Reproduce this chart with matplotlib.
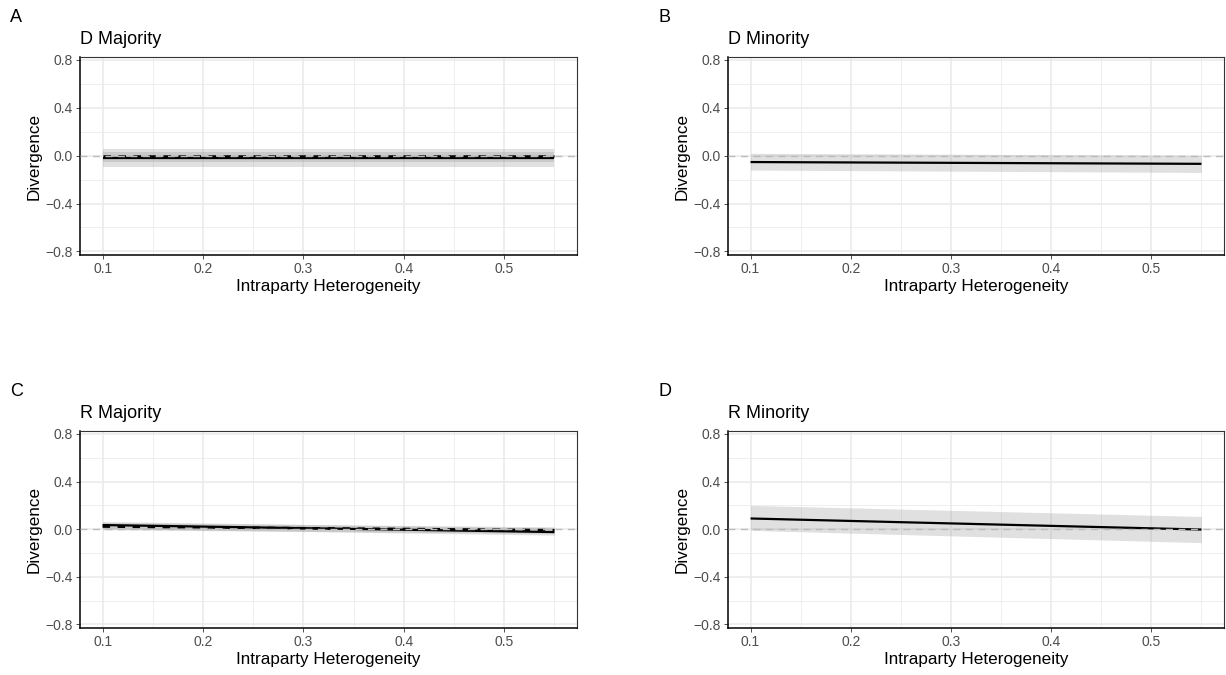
import numpy as np
import matplotlib
matplotlib.use("Agg")
import matplotlib.pyplot as plt

plt.rcParams['font.family'] = ['Liberation Sans', 'DejaVu Sans']

# data (linear fits, endpoints at x = 0.10 and 0.55)
x_vals = [0.10, 0.55]
panel_letters = ["A", "B", "C", "D"]
panel_titles = ["D Majority", "D Minority", "R Majority", "R Minority"]

# solid fit lines
solid_fit = {
    "A": [-0.020, -0.020],
    "B": [-0.053, -0.068],
    "C": [0.035, -0.024],
    "D": [0.090, -0.003],
}
# dashed fit lines (only visible in A and C)
dashed_fit = {
    "A": [-0.004, -0.004],
    "C": [0.022, -0.008],
}
# confidence ribbons: list of (low, high)
ribbons = {
    "A": [([-0.092, -0.092], [0.033, 0.033]), ([-0.050, -0.050], [0.056, 0.056])],
    "B": [([-0.120, -0.140], [0.020, 0.003])],
    "C": [([0.005, -0.050], [0.065, 0.010]), ([-0.005, -0.035], [0.055, 0.020])],
    "D": [([-0.010, -0.113], [0.200, 0.107])],
}

x_ticks = [0.1, 0.2, 0.3, 0.4, 0.5]
y_ticks = [-0.8, -0.4, 0.0, 0.4, 0.8]

W, H = 1226, 675
fig = plt.figure(figsize=(W / 100, H / 100), dpi=100)

# axes boxes in pixels: left, top, right, bottom
boxes = {
    "A": (80, 57, 577, 255),
    "B": (728, 57, 1224, 255),
    "C": (80, 431, 577, 628),
    "D": (728, 431, 1224, 628),
}

for letter, title in zip(panel_letters, panel_titles):
    l, t, r, b = boxes[letter]
    ax = fig.add_axes([l / W, 1 - b / H, (r - l) / W, (b - t) / H])
    ax.set_xlim(0.0775, 0.5725)
    ax.set_ylim(-0.83, 0.825)

    # grid like theme_bw
    for v in [0.15, 0.25, 0.35, 0.45, 0.55]:
        ax.axvline(v, color='#EBEBEB', lw=0.6, zorder=0)
    for v in [-0.6, -0.2, 0.2, 0.6]:
        ax.axhline(v, color='#EBEBEB', lw=0.6, zorder=0)
    for v in x_ticks:
        ax.axvline(v, color='#EBEBEB', lw=1.2, zorder=0)
    for v in y_ticks:
        ax.axhline(v, color='#EBEBEB', lw=1.2, zorder=0)

    for lo, hi in ribbons[letter]:
        ax.fill_between(x_vals, lo, hi, color='#999999', alpha=0.3, lw=0, zorder=1)

    ax.plot(x_vals, solid_fit[letter], color='black', lw=1.6, zorder=3,
            solid_capstyle='butt')
    if letter in dashed_fit:
        ax.plot(x_vals, dashed_fit[letter], color='black', lw=1.8, zorder=3,
                linestyle=(0, (3, 3)))

    ax.axhline(0, color='#BBBBBB', lw=1.0, linestyle=(0, (5, 4)), zorder=4)

    ax.set_xticks(x_ticks)
    ax.set_xticklabels([f"{v:.1f}" for v in x_ticks])
    ax.set_yticks(y_ticks)
    ax.set_yticklabels([f"{v:.1f}".replace("-", "\u2212") for v in y_ticks])
    ax.tick_params(length=3, width=0.6, color='#333333', labelcolor='#4D4D4D',
                   labelsize=10, pad=2)

    for side in ['top', 'right']:
        ax.spines[side].set_color('#333333')
        ax.spines[side].set_linewidth(0.8)
    for side in ['left', 'bottom']:
        ax.spines[side].set_color('black')
        ax.spines[side].set_linewidth(1.1)

    ax.set_xlabel("Intraparty Heterogeneity", fontsize=12.3, labelpad=2)
    ax.set_ylabel("Divergence", fontsize=12.3, labelpad=3)

    # panel title and tag
    fig.text(l / W, 1 - (t - 17) / H, title, fontsize=13, ha='left', va='center')
    fig.text((l - 70) / W, 1 - (t - 39) / H, letter, fontsize=13, ha='left', va='center')

fig.savefig("out.png", dpi=100)
